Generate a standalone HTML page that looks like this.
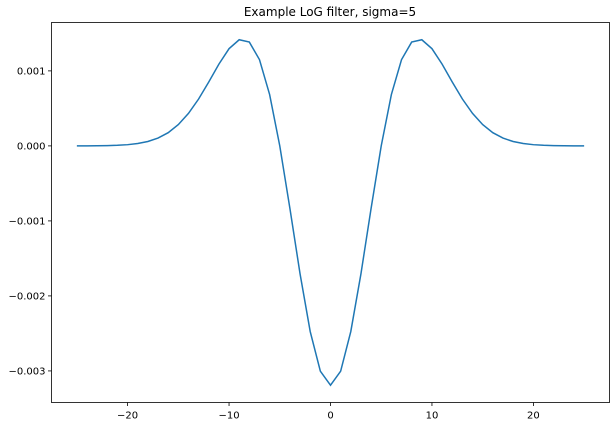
<!DOCTYPE html>
<html><head><meta charset="utf-8"><style>
body{margin:0;background:#fff;}
svg{display:block;font-family:"DejaVu Sans","Liberation Sans",sans-serif;}
</style></head><body>
<svg id="chart" width="616" height="427">
<rect width="616" height="427" fill="#fff"/>
<text x="330" y="16" font-size="12" text-anchor="middle">Example LoG filter, sigma=5</text>
<g id="plot"></g>
</svg>
<script>
const xValues = [-25,-24,-23,-22,-21,-20,-19,-18,-17,-16,-15,-14,-13,-12,-11,-10,-9,-8,-7,-6,-5,-4,-3,-2,-1,0,1,2,3,4,5,6,7,8,9,10,11,12,13,14,15,16,17,18,19,20,21,22,23,24,25];
const yRight = [-0.003191,-0.003003,-0.002475,-0.001706,-0.000834,0,0.000684,0.001150,0.001384,0.001415,0.001296,0.001090,0.000852,0.000625,0.000433,0.000284,0.000176,0.000104,0.0000586,0.0000314,0.000016,0.0000078,0.0000036,0.0000016,0.0000007,0.0000003];
const yValues = yRight.slice(1).reverse().concat(yRight);
const xTicks = [-20,-10,0,10,20];
const yTicks = [0.001,0,-0.001,-0.002,-0.003];
const yTickLabels = ["0.001","0.000","\u22120.001","\u22120.002","\u22120.003"];

const L=51.5,R=609.5,T=22.5,B=402.5;
const xmin=-27.5,xmax=27.5,ymin=-0.003421,ymax=0.001645;
const sx=v=>L+(v-xmin)/(xmax-xmin)*(R-L);
const sy=v=>B-(v-ymin)/(ymax-ymin)*(B-T);
const NS="http://www.w3.org/2000/svg";
const g=document.getElementById('plot');
function mk(t,a){const e=document.createElementNS(NS,t);for(const k in a)e.setAttribute(k,a[k]);g.appendChild(e);return e;}

const pts=xValues.map((x,i)=>sx(x).toFixed(2)+','+sy(yValues[i]).toFixed(2)).join(' ');
const line=mk('polyline',{points:pts,fill:'none',stroke:'#1f77b4','stroke-width':1.5});



xTicks.forEach(v=>{
  const x=sx(v);
  const t=mk('line',{x1:x,x2:x,y1:B,y2:B+3.5,stroke:'#000','stroke-width':0.8});
  
  
  const l=mk('text',{x:x,y:B+16,'font-size':10,'text-anchor':'middle'});
  l.textContent=v<0?'\u2212'+(-v):String(v);
  
  
});
yTicks.forEach((v,i)=>{
  const y=sy(v);
  const t=mk('line',{x1:L-3.5,x2:L,y1:y,y2:y,stroke:'#000','stroke-width':0.8});
  
  
  const l=mk('text',{x:L-6,y:y+3.5,'font-size':10,'text-anchor':'end'});
  l.textContent=yTickLabels[i];
  
  
});
const frame=mk('rect',{x:L,y:T,width:R-L,height:B-T,fill:'none',stroke:'#000','stroke-width':0.8});


</script>
</body></html>
